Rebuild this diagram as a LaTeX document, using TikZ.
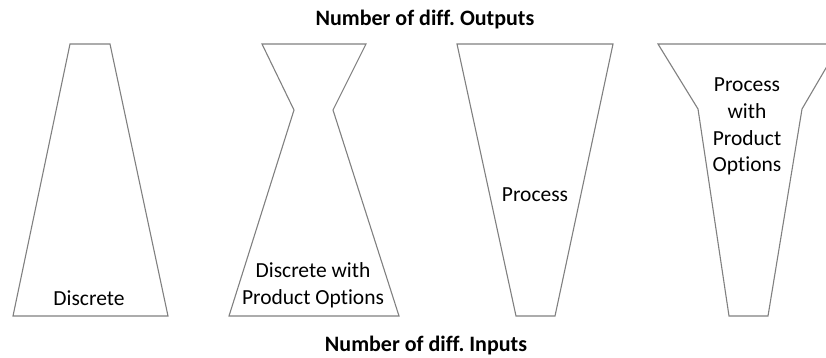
\documentclass[tikz,border=0pt]{standalone}
\usepackage{fontspec}
\setmainfont{Carlito}[Ligatures=NoCommon]
\usetikzlibrary{positioning}
\frenchspacing

\begin{document}
\begin{tikzpicture}[
  x=1pt, y=-1pt,
  outline/.style={draw=black!50, line width=1.1pt, line join=miter},
  txt/.style={font=\fontsize{21.5}{26.7}\selectfont, align=center, inner sep=0pt, anchor=base},
  heading/.style={font=\bfseries\fontsize{22}{26}\selectfont, inner sep=0pt, anchor=base},
]
\useasboundingbox (0,0) rectangle (826,357);
\clip (0,0) rectangle (826,357);

% Axis captions
\node[heading] (outputs) at (425,25) {Number of diff. Outputs};
\node[heading] (inputs) at (426,351.5) {Number of diff. Inputs};

% Discrete
\draw[outline] (70,44) -- (110,44) -- (168,316) -- (13,316) -- cycle;
\node[txt] (discrete) at (89,305) {Discrete};

% Discrete with product options (base = last line)
\draw[outline] (262,44) -- (366,44) -- (333,110) -- (399,316) -- (229,316) -- (294,110) -- cycle;
\node[txt] (discopt) at (313,304.3) {Discrete with\\Product Options};

% Process
\draw[outline] (457,44) -- (613,44) -- (555,316) -- (516,316) -- cycle;
\node[txt] (process) at (535,201.7) {Process};

% Process with product options (cut off on the right)
\draw[outline] (658,44) -- (840,44) -- (802,109) -- (768,316) -- (729,316) -- (698,109) -- cycle;
\node[txt] (procopt) at (747,171.7) {Process\\with\\Product\\Options};
\end{tikzpicture}
\end{document}
